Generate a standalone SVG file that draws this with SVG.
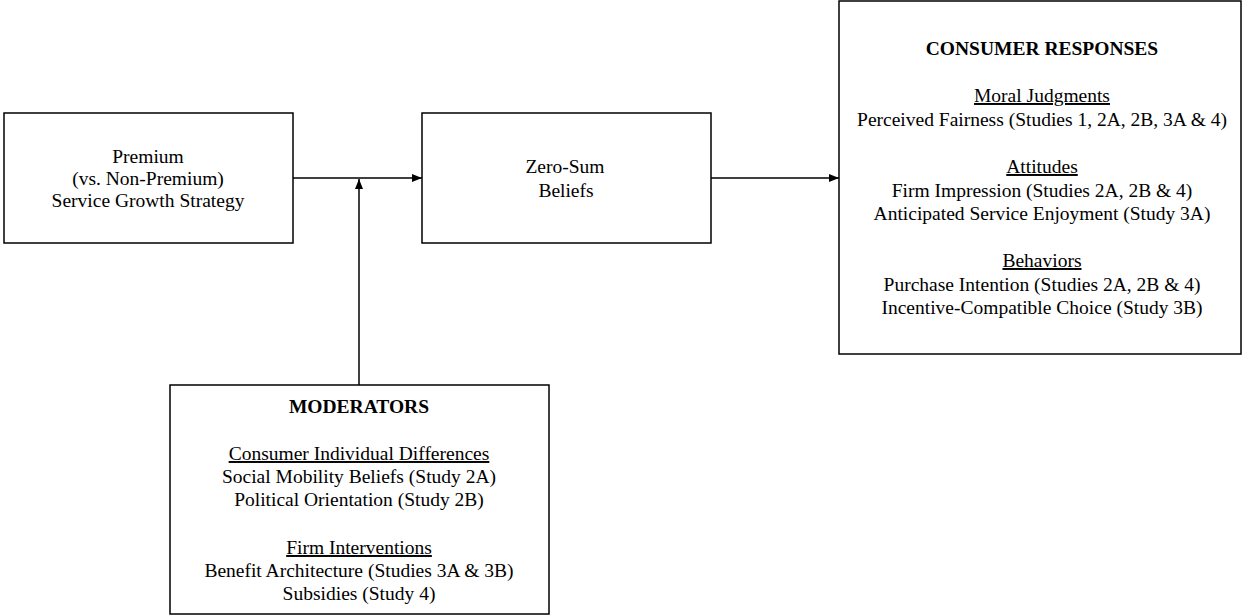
<svg xmlns="http://www.w3.org/2000/svg" width="1242" height="615" viewBox="0 0 1242 615">
<style>
text{font-family:"Liberation Serif","Times New Roman",serif;font-size:19.5px;fill:#000;text-anchor:middle}
.b{font-weight:bold}
.u{text-decoration:underline}
rect{fill:#fff;stroke:#000;stroke-width:1.5}
.c{stroke:#000;stroke-width:1.5;fill:none}
</style>
<defs>
<marker id="ah" markerWidth="10" markerHeight="8" refX="10" refY="4" orient="auto" markerUnits="userSpaceOnUse">
<path d="M0,0 L10,4 L0,8 Z" fill="#000"/>
</marker>
</defs>
<rect width="1242" height="615" style="fill:#fff;stroke:none"/>
<g id="connectors">
<line class="c" x1="293" y1="178" x2="422" y2="178" marker-end="url(#ah)"/>
<line class="c" x1="711" y1="178" x2="839" y2="178" marker-end="url(#ah)"/>
<line class="c" x1="359" y1="385" x2="359" y2="179" marker-end="url(#ah)"/>
</g>
<g id="premium">
<rect x="4" y="113" width="289" height="130"/>
<text x="148" y="163">Premium</text>
<text x="148" y="185">(vs. Non-Premium)</text>
<text x="148" y="207">Service Growth Strategy</text>
</g>
<g id="zerosum">
<rect x="422" y="113" width="289" height="130"/>
<text x="565" y="173">Zero-Sum</text>
<text x="566" y="197">Beliefs</text>
</g>
<g id="responses">
<rect x="839" y="1" width="402" height="353"/>
<text class="b" x="1042" y="55">CONSUMER RESPONSES</text>
<text class="u" x="1042" y="102">Moral Judgments</text>
<text x="1042" y="126">Perceived Fairness (Studies 1, 2A, 2B, 3A &amp; 4)</text>
<text class="u" x="1042" y="173">Attitudes</text>
<text x="1042" y="197">Firm Impression (Studies 2A, 2B &amp; 4)</text>
<text x="1042" y="220">Anticipated Service Enjoyment (Study 3A)</text>
<text class="u" x="1042" y="267">Behaviors</text>
<text x="1042" y="291">Purchase Intention (Studies 2A, 2B &amp; 4)</text>
<text x="1042" y="314">Incentive-Compatible Choice (Study 3B)</text>
</g>
<g id="moderators">
<rect x="170" y="385" width="379" height="229"/>
<text class="b" x="359" y="413">MODERATORS</text>
<text class="u" x="359" y="460">Consumer Individual Differences</text>
<text x="359" y="483">Social Mobility Beliefs (Study 2A)</text>
<text x="359" y="506">Political Orientation (Study 2B)</text>
<text class="u" x="359" y="554">Firm Interventions</text>
<text x="359" y="577">Benefit Architecture (Studies 3A &amp; 3B)</text>
<text x="359" y="600">Subsidies (Study 4)</text>
</g>
</svg>
